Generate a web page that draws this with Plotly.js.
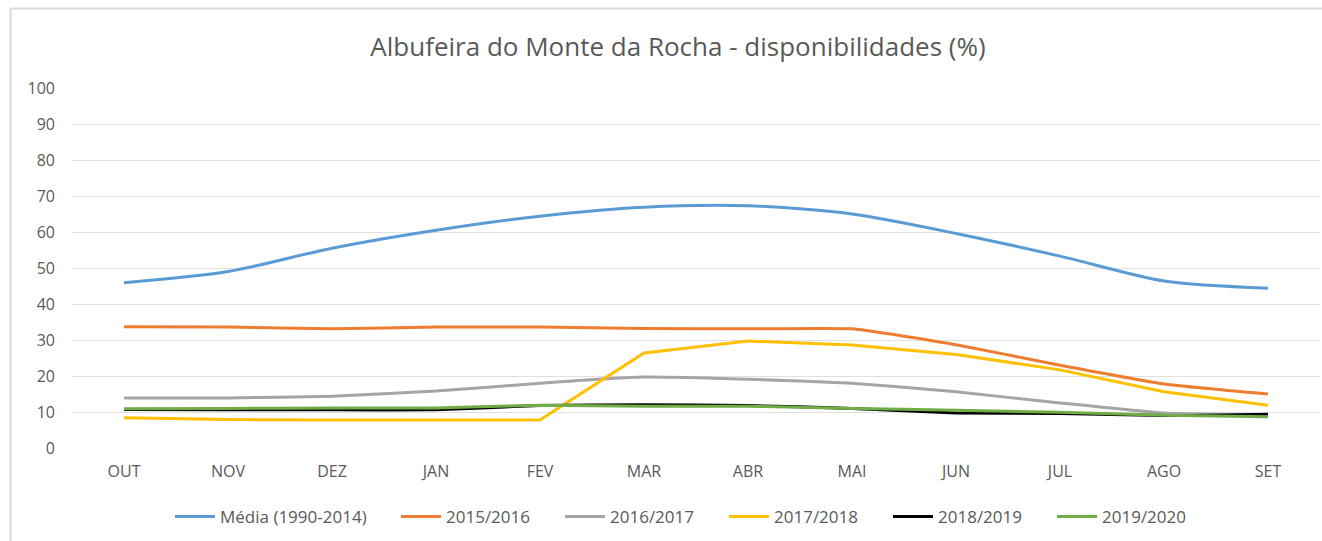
<!DOCTYPE html>
<html>
<head>
<meta charset="utf-8">
<script src="https://cdn.plot.ly/plotly-3.0.1.min.js"></script>
<style>html,body{margin:0;padding:0;background:#fff;}#chart{width:1322px;height:541px;}</style>
</head>
<body>
<div id="chart"></div>
<script>
const months = ["OUT","NOV","DEZ","JAN","FEV","MAR","ABR","MAI","JUN","JUL","AGO","SET"];
const media = [45.9, 49.0, 55.5, 60.5, 64.4, 66.9, 67.3, 65.0, 59.6, 53.3, 46.4, 44.4];
const s2015 = [33.7, 33.6, 33.1, 33.6, 33.6, 33.2, 33.1, 33.1, 28.7, 23.0, 17.8, 15.0];
const s2016 = [13.9, 13.9, 14.4, 15.8, 18.0, 19.7, 19.1, 18.0, 15.6, 12.5, 9.7, 9.2];
const s2017 = [8.4, 7.9, 7.8, 7.8, 7.8, 26.4, 29.7, 28.6, 26.0, 21.7, 15.6, 11.9];
const s2018 = [10.7, 10.6, 10.6, 10.6, 11.8, 12.0, 11.8, 11.0, 9.7, 9.6, 9.0, 9.4];
const s2019 = [10.9, 11.0, 11.1, 11.1, 11.9, 11.6, 11.6, 11.0, 10.5, 9.9, 9.1, 8.7];
const seriesNames = ["Média (1990-2014)", "2015/2016", "2016/2017", "2017/2018", "2018/2019", "2019/2020"];
const yTicks = [0,10,20,30,40,50,60,70,80,90,100];

const colors = ["#5b9bd5", "#ed7d31", "#a5a5a5", "#ffc000", "#000000", "#70ad47"];
const data = [media, s2015, s2016, s2017, s2018, s2019];
const shapesCfg = ["spline","spline","spline","linear","spline","spline"];

const traces = data.map((d, i) => ({
  x: months, y: d, type: "scatter", mode: "lines", name: seriesNames[i],
  legend: i === 0 ? "legend" : "legend2",
  line: {color: colors[i], width: 3, shape: shapesCfg[i], smoothing: i === 0 ? 0.8 : 0.4}
}));

// plot area: x 72..1320, y 88..448 (pixels)
const L = 72, R = 1320, T = 88, B = 448;
const px = v => (v - L) / (R - L);
const py = v => (B - v) / (B - T);

const legendBase = {orientation: "h", yanchor: "middle", xanchor: "left", y: py(517),
                    font: {size: 17, color: "#595959"}, itemwidth: 40, traceorder: "normal", bgcolor: "rgba(0,0,0,0)"};

const layout = {
  width: 1322, height: 541,
  margin: {l: L, r: 1322 - R, t: T, b: 541 - B},
  paper_bgcolor: "#ffffff", plot_bgcolor: "#ffffff",
  font: {family: "Open Sans, sans-serif", color: "#595959", size: 16},
  title: {text: "Albufeira do Monte da Rocha - disponibilidades (%)", x: 678 / 1322, xanchor: "center", y: 1 - 47 / 541, yanchor: "middle",
          font: {size: 26, color: "#595959", family: "Open Sans, sans-serif"}},
  xaxis: {type: "category", categoryarray: months, range: [-0.5, 11.5], showgrid: false, zeroline: false, showline: false, ticks: "",
          tickfont: {size: 16, color: "#595959"}, ticklabelstandoff: 12, fixedrange: true},
  yaxis: {range: [0, 100], tickvals: yTicks, ticktext: yTicks.map(String), showgrid: true, gridcolor: "#e0e0e0", gridwidth: 1,
          zeroline: false, showline: false, ticks: "", tickfont: {size: 16, color: "#595959"}, ticklabelstandoff: 16, fixedrange: true},
  showlegend: true,
  legend: Object.assign({}, legendBase, {x: px(170)}),
  legend2: Object.assign({}, legendBase, {x: px(396), entrywidth: 109, entrywidthmode: "pixels"}),
  shapes: [
    {type: "line", xref: "paper", yref: "paper", x0: px(10.5), x1: px(1330), y0: py(8.5), y1: py(8.5), line: {color: "#d9d9d9", width: 2}},
    {type: "line", xref: "paper", yref: "paper", x0: px(10.5), x1: px(10.5), y0: py(8.5), y1: py(560), line: {color: "#d9d9d9", width: 2}}
  ]
};

Plotly.newPlot("chart", traces, layout, {displayModeBar: false, staticPlot: true});
</script>
</body>
</html>
